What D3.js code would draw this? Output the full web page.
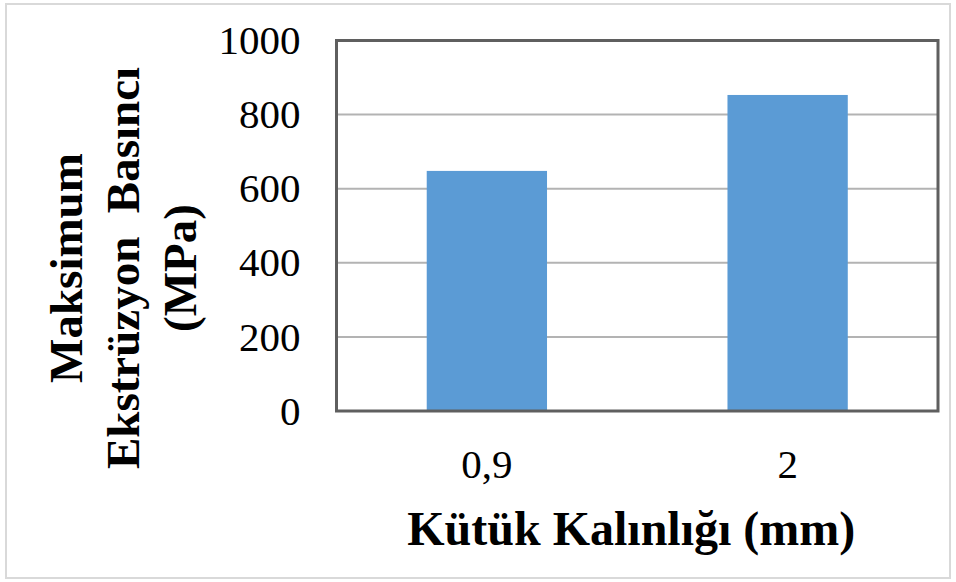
<!DOCTYPE html>
<html>
<head>
<meta charset="utf-8">
<script src="https://cdn.jsdelivr.net/npm/d3@7/dist/d3.min.js"></script>
<style>
  html, body { margin: 0; padding: 0; background: #fff; }
  svg { display: block; }
</style>
</head>
<body>
<svg id="chart" width="956" height="582"></svg>
<script>
// Billet thickness vs. maximum extrusion pressure
const categories = ["0,9", "2"];
const pressures = [648, 853];
const yTicks = [0, 200, 400, 600, 800, 1000];
const xTitle = "Kütük Kalınlığı (mm)";
const yTitleLines = ["Maksimum", "Ekstrüzyon  Basıncı", "(MPa)"];

const svg = d3.select("#chart");
const W = 956, H = 582;
const plot = { left: 336.5, right: 938, top: 40.5, bottom: 411 };
const font = "'Liberation Serif', 'Times New Roman', serif";

// outer chart border
svg.append("rect")
  .attr("x", 6).attr("y", 4)
  .attr("width", W - 12).attr("height", H - 8)
  .attr("fill", "#fff")
  .attr("stroke", "#d9d9d9").attr("stroke-width", 2);

const x = d3.scaleBand()
  .domain(categories)
  .range([plot.left, plot.right])
  .paddingInner(0.6).paddingOuter(0.3);

const y = d3.scaleLinear()
  .domain([0, 1000])
  .range([plot.bottom, plot.top]);

// horizontal gridlines
svg.append("g")
  .selectAll("line")
  .data(yTicks.filter(t => t > 0 && t < 1000))
  .join("line")
  .attr("x1", plot.left).attr("x2", plot.right)
  .attr("y1", d => y(d)).attr("y2", d => y(d))
  .attr("stroke", "#b3b3b3").attr("stroke-width", 2);

// bars
svg.append("g")
  .selectAll("rect")
  .data(categories.map((c, i) => ({ c, v: pressures[i] })))
  .join("rect")
  .attr("x", d => x(d.c))
  .attr("width", x.bandwidth())
  .attr("y", d => y(d.v))
  .attr("height", d => y(0) - y(d.v))
  .attr("fill", "#5b9bd5");

// plot frame
svg.append("rect")
  .attr("x", plot.left).attr("y", plot.top)
  .attr("width", plot.right - plot.left)
  .attr("height", plot.bottom - plot.top)
  .attr("fill", "none")
  .attr("stroke", "#5f5f5f").attr("stroke-width", 3);

// y axis labels
const yAxis = d3.axisLeft(y).tickValues(yTicks).tickFormat(d3.format("d"))
  .tickSize(0).tickPadding(36);
svg.append("g")
  .attr("transform", `translate(${plot.left},0)`)
  .call(yAxis)
  .call(g => g.select(".domain").remove())
  .selectAll("text")
  .attr("font-family", font)
  .attr("font-size", 41)
  .attr("fill", "#000");

// x axis labels
const xAxis = d3.axisBottom(x).tickSize(0).tickPadding(38);
svg.append("g")
  .attr("transform", `translate(0,${plot.bottom})`)
  .call(xAxis)
  .call(g => g.select(".domain").remove())
  .selectAll("text")
  .attr("font-family", font)
  .attr("font-size", 41)
  .attr("fill", "#000");

// x axis title
svg.append("text")
  .attr("x", (plot.left + plot.right) / 2 - 6)
  .attr("y", 545)
  .attr("text-anchor", "middle")
  .attr("font-family", font)
  .attr("font-weight", "bold")
  .attr("font-size", 48)
  .style("white-space", "pre")
  .text(xTitle);

// y axis title, three stacked lines rotated
const yt = svg.append("text")
  .attr("transform", "translate(0,268) rotate(-90)")
  .attr("text-anchor", "middle")
  .attr("font-family", font)
  .attr("font-weight", "bold")
  .attr("font-size", 47)
  .style("white-space", "pre");
yt.selectAll("tspan")
  .data(yTitleLines)
  .join("tspan")
  .attr("x", 0)
  .attr("y", (d, i) => 82 + i * 57)
  .text(d => d);
</script>
</body>
</html>
